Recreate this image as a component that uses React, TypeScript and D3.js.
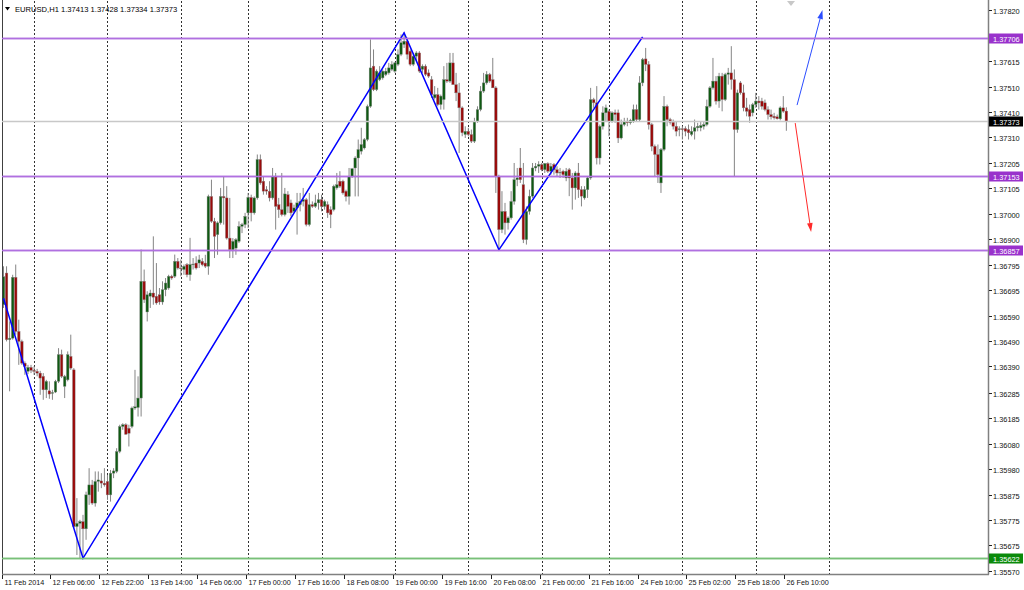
import React from "react";
import * as d3 from "d3";

// EURUSD H1, one array per trading day: [open, high, low, close]
const feb11 = [
  [1.36637, 1.36791, 1.36624, 1.36749], [1.36764, 1.36791, 1.3649, 1.36497], [1.36497, 1.3657, 1.3629, 1.36503],
  [1.36503, 1.36757, 1.36497, 1.36747], [1.36747, 1.36798, 1.36517, 1.3653], [1.3653, 1.36577, 1.36396, 1.3649],
  [1.3649, 1.36497, 1.36396, 1.36403], [1.36403, 1.3641, 1.36356, 1.3639], [1.3637, 1.36396, 1.36359, 1.36386],
  [1.36386, 1.36396, 1.36363, 1.36374],
];
const feb12 = [
  [1.36374, 1.3639, 1.36356, 1.3637], [1.3637, 1.3638, 1.3635, 1.36363], [1.36363, 1.36372, 1.36276, 1.36343],
  [1.3635, 1.36363, 1.36256, 1.36296], [1.36296, 1.36336, 1.36263, 1.3633], [1.36292, 1.3633, 1.3626, 1.36279],
  [1.36283, 1.36296, 1.36256, 1.36285], [1.36287, 1.36336, 1.36283, 1.3633], [1.3633, 1.36463, 1.36323, 1.36437],
  [1.36437, 1.36457, 1.36343, 1.3635], [1.3631, 1.36356, 1.36263, 1.3635], [1.36336, 1.3645, 1.3633, 1.36437],
  [1.3643, 1.36517, 1.36376, 1.36383], [1.36376, 1.36383, 1.35741, 1.35748], [1.35748, 1.35862, 1.35634, 1.35761],
  [1.35761, 1.35775, 1.35621, 1.35768], [1.35768, 1.35795, 1.35628, 1.35739], [1.35739, 1.35888, 1.35695, 1.35875],
  [1.35875, 1.35982, 1.35835, 1.35915], [1.35915, 1.35935, 1.35835, 1.35842], [1.35842, 1.35969, 1.35828, 1.35929],
  [1.35929, 1.35969, 1.35888, 1.35935], [1.35931, 1.35962, 1.35902, 1.35922], [1.35922, 1.35982, 1.35908, 1.35915],
];
const feb13 = [
  [1.35929, 1.35955, 1.35855, 1.35875], [1.35875, 1.35975, 1.35848, 1.35962], [1.35962, 1.35982, 1.35942, 1.35971],
  [1.35969, 1.36062, 1.35962, 1.36049], [1.36049, 1.36156, 1.36042, 1.36149], [1.36149, 1.36162, 1.36136, 1.36156],
  [1.36156, 1.36162, 1.36116, 1.36118], [1.36142, 1.36156, 1.36069, 1.36122], [1.36149, 1.36229, 1.36142, 1.36223],
  [1.36223, 1.36376, 1.36216, 1.36228], [1.36225, 1.3635, 1.36189, 1.36263], [1.36263, 1.36858, 1.36189, 1.36731],
  [1.36731, 1.36778, 1.36644, 1.36657], [1.36608, 1.36691, 1.3657, 1.36677], [1.36671, 1.36697, 1.36624, 1.36684],
  [1.36684, 1.36911, 1.36637, 1.36667], [1.36671, 1.36804, 1.36637, 1.36644], [1.36677, 1.36704, 1.36637, 1.36648],
  [1.36648, 1.36731, 1.36637, 1.36697], [1.36697, 1.36744, 1.36671, 1.36724], [1.36704, 1.36757, 1.36697, 1.36751],
  [1.36751, 1.36757, 1.36737, 1.36744], [1.36751, 1.36838, 1.36744, 1.36811], [1.36811, 1.36824, 1.36778, 1.36784],
];
const feb14 = [
  [1.36784, 1.36818, 1.36751, 1.36782], [1.36778, 1.36798, 1.36757, 1.36791], [1.36798, 1.36804, 1.36747, 1.36757],
  [1.36757, 1.36905, 1.36733, 1.36798], [1.36798, 1.36824, 1.36778, 1.368], [1.36804, 1.36831, 1.36778, 1.36784],
  [1.36804, 1.36837, 1.36784, 1.36817], [1.36811, 1.36824, 1.36791, 1.36797], [1.36804, 1.36837, 1.36784, 1.36791],
  [1.36791, 1.37078, 1.36757, 1.37071], [1.37071, 1.37138, 1.36965, 1.36971], [1.36971, 1.36985, 1.36824, 1.36911],
  [1.36918, 1.36971, 1.36837, 1.36965], [1.36965, 1.37105, 1.36958, 1.37071], [1.37071, 1.37152, 1.36958, 1.37065],
  [1.37065, 1.37112, 1.36898, 1.36904], [1.36904, 1.37065, 1.36824, 1.36858], [1.36858, 1.36904, 1.36824, 1.36891],
  [1.36864, 1.36904, 1.36837, 1.36898], [1.36891, 1.36971, 1.36884, 1.36951], [1.36951, 1.36965, 1.36924, 1.36958],
  [1.36958, 1.37005, 1.36944, 1.36991],
];
const feb17 = [
  [1.37005, 1.37085, 1.36944, 1.37067], [1.37067, 1.37078, 1.36971, 1.37005], [1.37005, 1.37071, 1.36998, 1.37065],
  [1.37065, 1.37239, 1.37058, 1.37219], [1.37219, 1.37239, 1.37118, 1.37125], [1.37132, 1.37152, 1.37078, 1.37092],
  [1.37098, 1.37112, 1.37078, 1.37092], [1.37092, 1.37132, 1.37051, 1.37065], [1.37065, 1.37185, 1.37058, 1.37152],
  [1.37152, 1.37165, 1.36938, 1.37031], [1.37038, 1.37065, 1.36985, 1.37018], [1.37018, 1.37165, 1.36991, 1.36998],
  [1.36998, 1.37105, 1.36991, 1.37081], [1.37078, 1.37092, 1.37005, 1.37031], [1.37045, 1.37058, 1.36991, 1.37005],
  [1.37011, 1.37038, 1.37005, 1.37025], [1.37025, 1.37085, 1.36918, 1.37045], [1.37038, 1.37085, 1.37011, 1.37051],
  [1.37051, 1.37105, 1.37031, 1.37058], [1.37058, 1.37065, 1.36951, 1.36958], [1.36958, 1.37085, 1.36951, 1.37038],
  [1.37038, 1.37051, 1.37025, 1.37031], [1.37031, 1.37078, 1.37025, 1.37045], [1.37045, 1.37085, 1.37018, 1.37058],
];
const feb18 = [
  [1.37058, 1.37078, 1.37011, 1.37031], [1.37031, 1.37058, 1.37018, 1.37051], [1.37038, 1.37051, 1.36985, 1.37005],
  [1.37018, 1.37031, 1.36944, 1.36998], [1.37018, 1.37118, 1.37011, 1.37112], [1.37105, 1.37165, 1.37098, 1.37118],
  [1.37132, 1.37172, 1.37105, 1.37112], [1.37132, 1.37138, 1.37078, 1.37085], [1.37092, 1.37098, 1.37051, 1.37071],
  [1.37071, 1.37185, 1.37038, 1.37152], [1.37152, 1.37185, 1.37145, 1.37182], [1.37185, 1.37232, 1.37071, 1.37225],
  [1.37225, 1.37299, 1.37071, 1.37259], [1.37252, 1.37346, 1.37239, 1.37279], [1.37265, 1.37305, 1.37259, 1.37299],
  [1.37299, 1.37439, 1.37292, 1.37432], [1.37432, 1.377, 1.37426, 1.37586], [1.37593, 1.3766, 1.37493, 1.37499],
  [1.37499, 1.3758, 1.37493, 1.37573], [1.37539, 1.37593, 1.37533, 1.37566], [1.37546, 1.3758, 1.37539, 1.37573],
  [1.37559, 1.37586, 1.37553, 1.37573], [1.37566, 1.37606, 1.37559, 1.37586], [1.3758, 1.37613, 1.37573, 1.376],
];
const feb19 = [
  [1.37573, 1.3761, 1.37566, 1.37606], [1.376, 1.3766, 1.37593, 1.3764], [1.3764, 1.3772, 1.37633, 1.37687],
  [1.3768, 1.37729, 1.37666, 1.37693], [1.37693, 1.37707, 1.3762, 1.3764], [1.37653, 1.3766, 1.37593, 1.376],
  [1.376, 1.37646, 1.37593, 1.37633], [1.37633, 1.37653, 1.37613, 1.37646], [1.37646, 1.37653, 1.37566, 1.37573],
  [1.3758, 1.376, 1.37566, 1.37593], [1.37593, 1.376, 1.37553, 1.3756], [1.37566, 1.3758, 1.37546, 1.37553],
  [1.37539, 1.37553, 1.37466, 1.37479], [1.37466, 1.37513, 1.37459, 1.37479], [1.37479, 1.37506, 1.37432, 1.37439],
  [1.37439, 1.37479, 1.37419, 1.37473], [1.37459, 1.37593, 1.37419, 1.37539], [1.37539, 1.37606, 1.37526, 1.37533],
  [1.37533, 1.37646, 1.37526, 1.37606], [1.37606, 1.37646, 1.37519, 1.37519], [1.37519, 1.37566, 1.37453, 1.37486],
  [1.37486, 1.37526, 1.37245, 1.37426], [1.37426, 1.37432, 1.37312, 1.37326], [1.37319, 1.37352, 1.37305, 1.37332],
];
const feb20 = [
  [1.37332, 1.37346, 1.37312, 1.37319], [1.37319, 1.37339, 1.37285, 1.37292], [1.37292, 1.37386, 1.37285, 1.37372],
  [1.37372, 1.37432, 1.37366, 1.37419], [1.37419, 1.37513, 1.37412, 1.37493], [1.37493, 1.37566, 1.37486, 1.37526],
  [1.37526, 1.37573, 1.37519, 1.3756], [1.3756, 1.37566, 1.37526, 1.37533], [1.37539, 1.37626, 1.37506, 1.37506],
  [1.37506, 1.37513, 1.37085, 1.37152], [1.37152, 1.37158, 1.36858, 1.36938], [1.36938, 1.37092, 1.36924, 1.37011],
  [1.37011, 1.37045, 1.36918, 1.36965], [1.36965, 1.36991, 1.36938, 1.36985], [1.36985, 1.37092, 1.36978, 1.37051],
  [1.37051, 1.37205, 1.37038, 1.37138], [1.37138, 1.37185, 1.37112, 1.37145], [1.37185, 1.37265, 1.37125, 1.37138],
  [1.37118, 1.37205, 1.36884, 1.36898], [1.36898, 1.37031, 1.36878, 1.37011], [1.37011, 1.37098, 1.36998, 1.37072],
  [1.37072, 1.37205, 1.37065, 1.37185], [1.37185, 1.37205, 1.37172, 1.37192], [1.37192, 1.37212, 1.37165, 1.37199],
];
const feb21 = [
  [1.37199, 1.37205, 1.37172, 1.37178], [1.37178, 1.37205, 1.37165, 1.37203], [1.37203, 1.37208, 1.37165, 1.37172],
  [1.37172, 1.37205, 1.37158, 1.37192], [1.37199, 1.37205, 1.37158, 1.37178], [1.37178, 1.37192, 1.37152, 1.37165],
  [1.37165, 1.37185, 1.37145, 1.37168], [1.37172, 1.37178, 1.37145, 1.37158], [1.37145, 1.37185, 1.37132, 1.37172],
  [1.37178, 1.37185, 1.37072, 1.37145], [1.37145, 1.37165, 1.37018, 1.37105], [1.37105, 1.37172, 1.37058, 1.37165],
  [1.37165, 1.37205, 1.37065, 1.37098], [1.37098, 1.37112, 1.37031, 1.37072], [1.37065, 1.37112, 1.37058, 1.37098],
  [1.37098, 1.37152, 1.37065, 1.37145], [1.37145, 1.37506, 1.37138, 1.37459], [1.37459, 1.37466, 1.37426, 1.37446],
  [1.37446, 1.37513, 1.37199, 1.37225], [1.37225, 1.37359, 1.37199, 1.37352], [1.37352, 1.37432, 1.37339, 1.37406],
  [1.37406, 1.37439, 1.37372, 1.37426],
];
const feb24 = [
  [1.37412, 1.37419, 1.37312, 1.37372], [1.37372, 1.37412, 1.37366, 1.37406], [1.37406, 1.37419, 1.37366, 1.37399],
  [1.37406, 1.37419, 1.37285, 1.37305], [1.37305, 1.37379, 1.37299, 1.37359], [1.37359, 1.37386, 1.37352, 1.37372],
  [1.37372, 1.37386, 1.37352, 1.37366], [1.37366, 1.37382, 1.37359, 1.37376], [1.37372, 1.37439, 1.37366, 1.37419],
  [1.37419, 1.37439, 1.37372, 1.37379], [1.37379, 1.37553, 1.37372, 1.37526], [1.37526, 1.37626, 1.37513, 1.3762],
  [1.37622, 1.37666, 1.37573, 1.376], [1.376, 1.37613, 1.37339, 1.37359], [1.37359, 1.37366, 1.37252, 1.37272],
  [1.37272, 1.37279, 1.37152, 1.37239], [1.37239, 1.37279, 1.37125, 1.37158], [1.37125, 1.37265, 1.37085, 1.37259],
  [1.37259, 1.37473, 1.37252, 1.37432], [1.37432, 1.37439, 1.37352, 1.37379], [1.37379, 1.37386, 1.37359, 1.37368],
  [1.37368, 1.37379, 1.37339, 1.37352], [1.37352, 1.37372, 1.37312, 1.37332], [1.37339, 1.37352, 1.37312, 1.37342],
];
const feb25 = [
  [1.37342, 1.37352, 1.37299, 1.37339], [1.37343, 1.37352, 1.37312, 1.37332], [1.37339, 1.37359, 1.37299, 1.37326],
  [1.37319, 1.37352, 1.37312, 1.37332], [1.37332, 1.37379, 1.37299, 1.37346], [1.37346, 1.37366, 1.37332, 1.37352],
  [1.37346, 1.37372, 1.37332, 1.37355], [1.37352, 1.37372, 1.37339, 1.37359], [1.37359, 1.37459, 1.37352, 1.37432],
  [1.37432, 1.37513, 1.37426, 1.37506], [1.37506, 1.37626, 1.37499, 1.37533], [1.37533, 1.37553, 1.37439, 1.37453],
  [1.37453, 1.37566, 1.37426, 1.37553], [1.37553, 1.37566, 1.37412, 1.37459], [1.37459, 1.37566, 1.37453, 1.3756],
  [1.3756, 1.37586, 1.37519, 1.37566], [1.37566, 1.37673, 1.37499, 1.37539], [1.37539, 1.3758, 1.37152, 1.37339],
  [1.37339, 1.37499, 1.37326, 1.37486], [1.37526, 1.37533, 1.37479, 1.37486], [1.37486, 1.37519, 1.37412, 1.37426],
  [1.37426, 1.37466, 1.37392, 1.37412], [1.37419, 1.37439, 1.37366, 1.37392], [1.37406, 1.37446, 1.37392, 1.37439],
];
const feb26 = [
  [1.37439, 1.37486, 1.37426, 1.37453], [1.37453, 1.37473, 1.37419, 1.37446], [1.37453, 1.37466, 1.37419, 1.37432],
  [1.37446, 1.37459, 1.37412, 1.37419], [1.37419, 1.37432, 1.37379, 1.37399], [1.37399, 1.37419, 1.37379, 1.3739],
  [1.37392, 1.37406, 1.37379, 1.37386], [1.3739, 1.37399, 1.37379, 1.37382], [1.37382, 1.37432, 1.37376, 1.37426],
  [1.37426, 1.37473, 1.37406, 1.37412], [1.37413, 1.37428, 1.37334, 1.37373],
];

const priceTicks = [
  1.3782, 1.37615, 1.3751, 1.3741, 1.3731, 1.37205, 1.37105, 1.37, 1.369, 1.36795, 1.36695,
  1.3659, 1.3649, 1.3639, 1.36285, 1.36185, 1.3608, 1.3598, 1.35875, 1.35775, 1.35675, 1.3557,
];
const timeTickBars = [0, 16, 32, 48, 64, 80, 96, 112, 128, 144, 160, 176, 192, 208, 224, 240, 256];
const timeTickLabels = [
  "11 Feb 2014", "12 Feb 06:00", "12 Feb 22:00", "13 Feb 14:00", "14 Feb 06:00", "17 Feb 00:00",
  "17 Feb 16:00", "18 Feb 08:00", "19 Feb 00:00", "19 Feb 16:00", "20 Feb 08:00", "21 Feb 00:00",
  "21 Feb 16:00", "24 Feb 10:00", "25 Feb 02:00", "25 Feb 18:00", "26 Feb 10:00",
];
const dayStartBars = [10, 34, 58, 80, 104, 128, 152, 176, 198, 222, 246, 270];

const purpleLevels = [1.37706, 1.37153, 1.36857];
const greenLevel = 1.35622;
const lastPrice = 1.37373;

const zigBars = [0, 26, 131, 162, 209];
const zigPrices = [1.36663, 1.35621, 1.37726, 1.36857, 1.3771];
const upArrow = { bars: [259.5, 267.8], prices: [1.37437, 1.37818] };
const downArrow = { bars: [258.9, 264.1], prices: [1.37365, 1.36928] };

const candles = [
  ...feb11, ...feb12, ...feb13, ...feb14, ...feb17, ...feb18,
  ...feb19, ...feb20, ...feb21, ...feb24, ...feb25, ...feb26,
];

const W = 1024, H = 590;
const plotLeft = 2, plotRight = 988, plotBottom = 574;
const font = "Liberation Sans, Arial, sans-serif";

const x = d3.scaleLinear().domain([0, 322]).range([3.5, 3.5 + 3.058 * 322]);
const y = d3.scaleLinear().domain([1.3557, 1.3782]).range([571, 9.5]);

const Arrow = ({ bars, prices, color, id }) => {
  const x1 = x(bars[0]), y1 = y(prices[0]), x2 = x(bars[1]), y2 = y(prices[1]);
  const a = Math.atan2(y2 - y1, x2 - x1);
  const len = 9, half = 2.8;
  const bx = x2 - len * Math.cos(a), by = y2 - len * Math.sin(a);
  const p1 = [bx + half * Math.sin(a), by - half * Math.cos(a)];
  const p2 = [bx - half * Math.sin(a), by + half * Math.cos(a)];
  return (
    <g key={id}>
      <line x1={x1} y1={y1} x2={bx} y2={by} stroke={color} strokeWidth={1} />
      <polygon points={`${x2},${y2} ${p1[0]},${p1[1]} ${p2[0]},${p2[1]}`} fill={color} />
    </g>
  );
};

const LevelBox = ({ price, fill, line }) => {
  const yy = Math.round(y(price)) + 0.5;
  return (
    <g>
      <line x1={plotLeft} x2={plotRight} y1={yy} y2={yy} stroke={line} strokeWidth={1.3} />
      <rect x={plotRight + 1} y={yy - 5} width={34} height={10} fill={fill} />
      <text x={plotRight + 5} y={yy + 3} fontSize={7.4} fill="#fff" fontFamily={font}>
        {price.toFixed(5)}
      </text>
    </g>
  );
};

export default function App() {
  const zigLine = d3
    .line<number>()
    .x((d) => x(zigBars[d]))
    .y((d) => y(zigPrices[d]));

  return (
    <div style={{ position: "fixed", left: 0, top: 0 }}>
      <svg width={W} height={H} style={{ display: "block", background: "#fff" }}>
        <rect x={0} y={0} width={W} height={H} fill="#fff" />

        {/* day separators */}
        {dayStartBars.map((b) => (
          <line
            key={"g" + b}
            x1={Math.round(x(b)) + 0.5}
            x2={Math.round(x(b)) + 0.5}
            y1={1}
            y2={plotBottom}
            stroke="#303030"
            strokeWidth={1}
            strokeDasharray="2,2"
          />
        ))}

        {/* current price line */}
        <line
          x1={plotLeft}
          x2={plotRight}
          y1={Math.round(y(lastPrice)) + 0.5}
          y2={Math.round(y(lastPrice)) + 0.5}
          stroke="#c8c8c8"
          strokeWidth={1.2}
        />
        {purpleLevels.map((p) => (
          <line
            key={"pl" + p}
            x1={plotLeft}
            x2={plotRight}
            y1={Math.round(y(p)) + 0.5}
            y2={Math.round(y(p)) + 0.5}
            stroke="#b070e0"
            strokeWidth={1.3}
          />
        ))}
        <line
          x1={plotLeft}
          x2={plotRight}
          y1={Math.round(y(greenLevel)) + 0.5}
          y2={Math.round(y(greenLevel)) + 0.5}
          stroke="#78c078"
          strokeWidth={1.5}
        />

        {/* candles */}
        {candles.map((c, i) => {
          const [o, h, l, cl] = c;
          const cx = x(i);
          const top = y(Math.max(o, cl));
          const bot = y(Math.min(o, cl));
          const up = cl >= o;
          return (
            <g key={"c" + i}>
              <line x1={cx} x2={cx} y1={y(h)} y2={y(l)} stroke="#858585" strokeWidth={1} />
              <rect
                x={cx - 1.3}
                y={top}
                width={2.6}
                height={Math.max(bot - top, 0.8)}
                fill={up ? "#0f5a12" : "#9a0a0a"}
                stroke="#8a8a8a"
                strokeWidth={0.4}
              />
            </g>
          );
        })}

        {/* zigzag */}
        <path
          d={zigLine(d3.range(zigBars.length)) || ""}
          fill="none"
          stroke="#0000ff"
          strokeWidth={1.5}
          strokeLinejoin="miter"
        />
        <Arrow {...upArrow} color="#2b4dff" id="up" />
        <Arrow {...downArrow} color="#ff2a2a" id="down" />

        {/* chart shift marker */}
        <polygon points="787,1 795,1 791,6" fill="#c8c8c8" />

        {/* frame */}
        <line x1={plotLeft + 0.5} x2={plotLeft + 0.5} y1={0} y2={plotBottom} stroke="#404040" />
        <line x1={plotRight + 0.5} x2={plotRight + 0.5} y1={0} y2={plotBottom + 0.5} stroke="#808080" strokeWidth={1.5} />
        <line x1={plotLeft} x2={plotRight + 1} y1={plotBottom + 0.5} y2={plotBottom + 0.5} stroke="#808080" strokeWidth={1.5} />

        {/* price axis */}
        {priceTicks.map((p) => {
          const yy = Math.round(y(p)) + 0.5;
          return (
            <g key={"pt" + p}>
              <line x1={plotRight + 1} x2={plotRight + 4} y1={yy} y2={yy} stroke="#222" />
              <text x={plotRight + 5} y={yy + 3} fontSize={7.4} fill="#111" fontFamily={font}>
                {p.toFixed(5)}
              </text>
            </g>
          );
        })}
        {purpleLevels.map((p) => (
          <LevelBox key={"lb" + p} price={p} fill="#9932cc" line="#b070e0" />
        ))}
        <LevelBox price={lastPrice} fill="#000" line="#c8c8c8" />
        <LevelBox price={greenLevel} fill="#0a8a0a" line="#78c078" />

        {/* time axis */}
        {timeTickBars.map((b, i) => {
          const xx = Math.round(x(b)) - 1.5;
          return (
            <g key={"tt" + b}>
              <line x1={xx} x2={xx} y1={plotBottom + 1} y2={plotBottom + 5} stroke="#222" />
              <text x={xx + 2} y={plotBottom + 11} fontSize={7.2} fill="#111" fontFamily={font}>
                {timeTickLabels[i]}
              </text>
            </g>
          );
        })}

        {/* header */}
        <polygon points="5,7 10,7 7.5,10.5" fill="#000" />
        <text x={15} y={12} fontSize={7.6} fill="#000" fontFamily={font}>
          {"EURUSD,H1  1.37413 1.37428 1.37334 1.37373"}
        </text>
      </svg>
    </div>
  );
}
